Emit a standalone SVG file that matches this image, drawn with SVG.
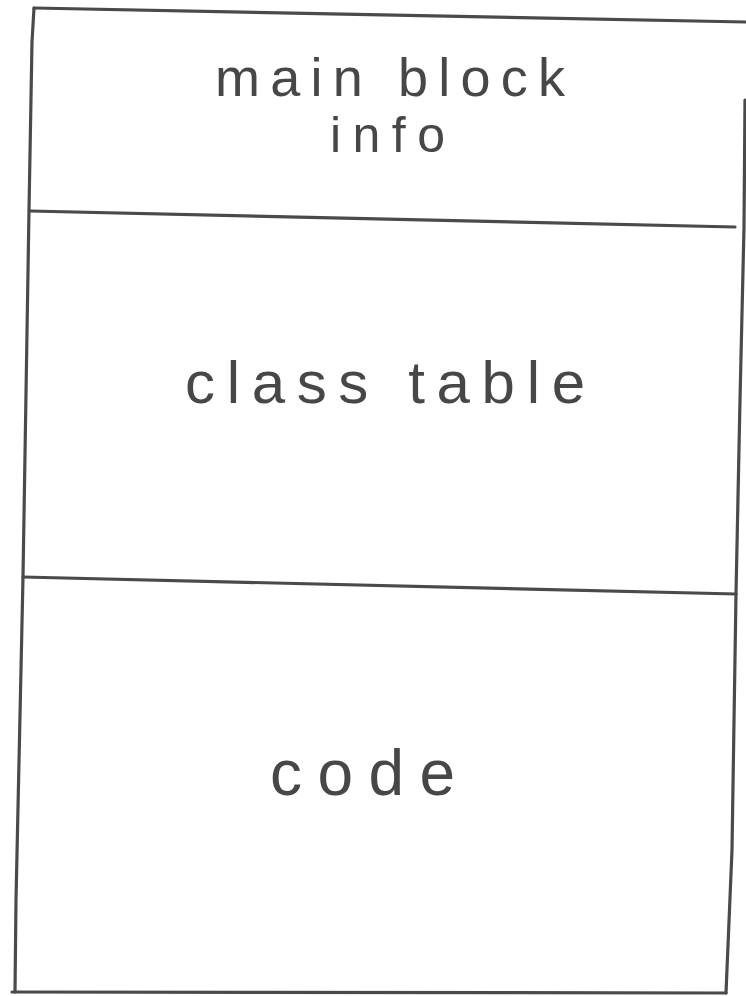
<svg xmlns="http://www.w3.org/2000/svg" width="746" height="996" viewBox="0 0 746 996">
<style>
.ln{fill:none;stroke:#4a4a4a;stroke-width:3.2;stroke-linecap:round;stroke-linejoin:round}
.tx{font-family:"Liberation Sans","DejaVu Sans",sans-serif;fill:#474747;text-anchor:start}
</style>
<rect width="746" height="996" fill="#ffffff"/>
<g id="frame">
<path class="ln" d="M34,8 L746,22"/>
<path class="ln" d="M34,8 L32,42 L29,210 L23,577 L16,900 L15,992"/>
<path class="ln" d="M12,992 L726,993"/>
<path class="ln" d="M726,993 L732,850 L736,594 L740,400 L744,227 L745,100"/>
</g>
<g id="main-block-info">
<path class="ln" d="M30,211 L735,227"/>
<text class="tx" x="215" y="96" font-size="54" textLength="350" lengthAdjust="spacing">main block</text>
<text class="tx" x="330" y="152" font-size="50" textLength="115" lengthAdjust="spacing">info</text>
</g>
<g id="class-table">
<path class="ln" d="M23,577 L736,594"/>
<text class="tx" x="185" y="403" font-size="60" textLength="400" lengthAdjust="spacing">class table</text>
</g>
<g id="code">
<text class="tx" x="270" y="795" font-size="64" textLength="185" lengthAdjust="spacing">code</text>
</g>
<g id="connectors"/>
</svg>
